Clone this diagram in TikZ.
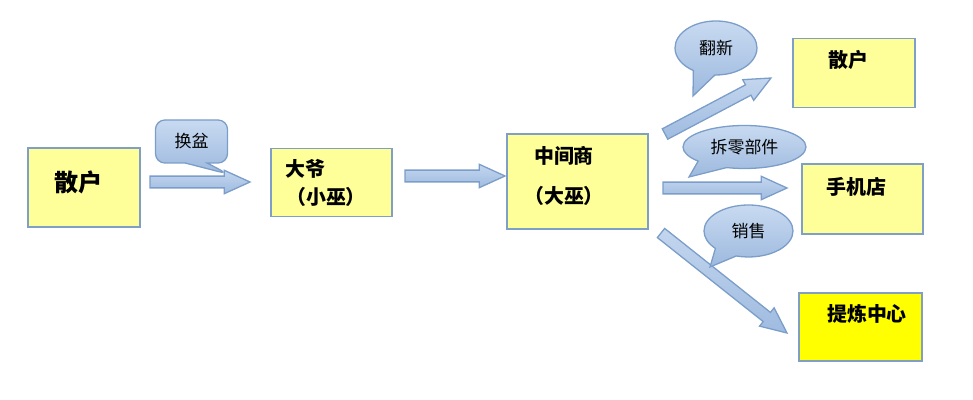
\documentclass[tikz,border=0pt]{standalone}
\usepackage{fontspec}
\newfontfamily\cjk{Noto Sans CJK SC}
\usetikzlibrary{calc, shapes.callouts}
\definecolor{boxfill}{HTML}{FFFF99}
\definecolor{boxline}{HTML}{7F9FC6}
\definecolor{goldfill}{HTML}{FFFF00}
\definecolor{arrowtop}{HTML}{C3D6EE}
\definecolor{arrowbot}{HTML}{9FBBE0}
\definecolor{arrowline}{HTML}{7B9DC9}
\definecolor{bubbletop}{HTML}{C8DAF1}
\definecolor{bubblebot}{HTML}{9DB9DE}
\def\px{0.03cm}
\tikzset{
  stockbox/.style={draw=boxline, line width=1.7pt, fill=boxfill, inner sep=0pt},
  boxtext/.style={font=\cjk\bfseries\fontsize{17}{17}\selectfont, inner sep=0pt},
  bubble/.style={ellipse callout, draw=arrowline, line width=1.1pt, top color=bubbletop,
    bottom color=bubblebot, inner sep=0pt, callout pointer arc=32,
    font=\cjk\fontsize{14.5}{15}\selectfont},
  flowarrow/.style={draw=arrowline, line width=1.1pt, top color=arrowtop, bottom color=arrowbot}
}
% block arrow from #1 to #2
\newcommand{\barrow}[2]{%
  \coordinate (hb) at ($(#2)!22pt!(#1)$);
  \draw[flowarrow] ($(#1)!5pt!90:(#2)$) -- ($(hb)!5pt!90:(#2)$) -- ($(hb)!10pt!90:(#2)$)
    -- (#2) -- ($(hb)!10pt!-90:(#2)$) -- ($(hb)!5pt!-90:(#2)$) -- ($(#1)!5pt!-90:(#2)$) -- cycle;
}

\begin{document}
\begin{tikzpicture}[x=0.03cm, y=-0.03cm]
  \useasboundingbox (0,0) rectangle (973,400);

  % boxes
  \node[stockbox, minimum width=112*\px, minimum height=79*\px] (sanhu) at (84,187.5) {};
  \node[stockbox, minimum width=121*\px, minimum height=68*\px] (daye) at (331.5,182.5) {};
  \node[stockbox, minimum width=141*\px, minimum height=95*\px] (zhong) at (577.5,181.5) {};
  \node[stockbox, minimum width=122*\px, minimum height=69*\px] (sanhuB) at (854,73) {};
  \node[stockbox, minimum width=121*\px, minimum height=70*\px] (shouji) at (862.5,199) {};
  \node[stockbox, fill=goldfill, minimum width=123*\px, minimum height=68*\px] (tilian) at (860.5,327) {};

  % box texts
  \node[boxtext, font=\cjk\bfseries\fontsize{20.5}{21}\selectfont] (tSanhu) at (79,182) {散户};
  \node[boxtext] (tDaye) at (305,169) {大爷};
  \node[boxtext] (tXiaowu) at (326,197) {（小巫）};
  \node[boxtext] (tZhong) at (564,156) {中间商};
  \node[boxtext] (tDawu) at (564,196) {（大巫）};
  \node[boxtext] (tSanhuB) at (848,60) {散户};
  \node[boxtext] (tShouji) at (856.5,187) {手机店};
  \node[boxtext] (tTilian) at (867,314) {提炼中心};

  % arrows
  \coordinate (a1s) at (150,182);  \coordinate (a1e) at (250,182);
  \coordinate (a2s) at (405,176);  \coordinate (a2e) at (505,176);
  \coordinate (a3s) at (665,134);  \coordinate (a3e) at (771,78);
  \coordinate (a4s) at (663,188);  \coordinate (a4e) at (787,188);
  \coordinate (a5s) at (661,233);  \coordinate (a5e) at (787,333);
  \barrow{a1s}{a1e}
  \barrow{a2s}{a2e}
  \barrow{a3s}{a3e}
  \barrow{a4s}{a4e}
  \barrow{a5s}{a5e}

  % callouts
  \coordinate (p1) at (228,174);
  \coordinate (p2) at (693,96);
  \coordinate (p3) at (689,177);
  \coordinate (p4) at (710,267);
  \node[bubble, rectangle callout, rounded corners=8pt, minimum width=72*\px, minimum height=43*\px,
    callout pointer width=22*\px, callout absolute pointer={(p1)}] (huanpen) at (191.5,141.5) {换盆};
  \node[bubble, minimum width=82*\px, minimum height=54*\px,
    callout absolute pointer={(p2)}] (fanxin) at (716,48) {翻新};
  \node[bubble, minimum width=123*\px, minimum height=43*\px,
    callout absolute pointer={(p3)}] (chailing) at (744.5,147) {拆零部件};
  \node[bubble, minimum width=89*\px, minimum height=52*\px,
    callout absolute pointer={(p4)}] (xiaoshou) at (748.5,231) {销售};
\end{tikzpicture}
\end{document}
